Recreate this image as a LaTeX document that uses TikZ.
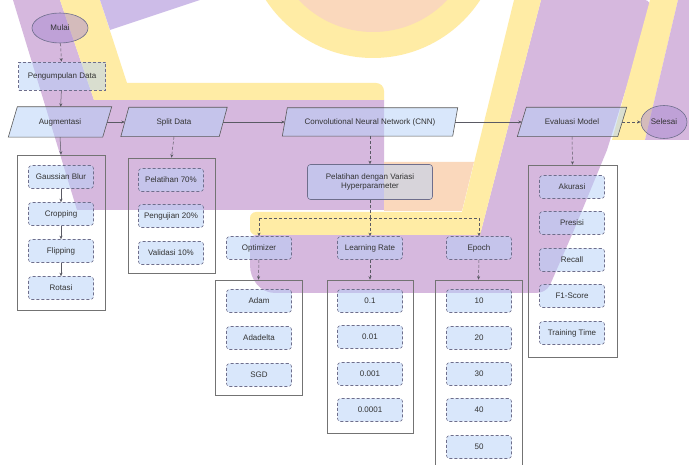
\documentclass[tikz,border=0pt]{standalone}
\usepackage{fontspec}
\setmainfont{Liberation Sans}
\usetikzlibrary{arrows.meta,shapes.geometric}
\pgfdeclarelayer{wm}
\pgfdeclarelayer{bg}
\pgfsetlayers{wm,bg,main}
\definecolor{wmPurple}{RGB}{214,184,222}
\definecolor{wmLilac}{RGB}{205,188,232}
\definecolor{wmYellow}{RGB}{255,236,165}
\definecolor{wmPeach}{RGB}{250,216,188}
\definecolor{boxBlue}{RGB}{181,209,249}
\definecolor{boxLine}{RGB}{110,110,140}
\definecolor{ellFill}{RGB}{170,140,210}
\definecolor{lineCol}{RGB}{90,90,100}
\tikzset{
  every node/.style={font=\fontsize{8}{9}\selectfont, text=black!80},
  innerbox/.style={rectangle, rounded corners=3pt, draw=boxLine, densely dashed, line width=0.6pt,
    fill=boxBlue, fill opacity=0.5, text opacity=1, minimum width=65pt, minimum height=23pt, inner sep=1pt},
  databox/.style={rectangle, draw=boxLine, densely dashed, line width=0.6pt,
    fill=boxBlue, fill opacity=0.5, text opacity=1, minimum width=87pt, minimum height=28pt, inner sep=1pt},
  group/.style={rectangle, draw=black!55, line width=0.6pt, inner sep=0pt},
  parabox/.style={rectangle, minimum height=29pt, inner sep=1pt},
  pline/.style={draw=black!65, line width=0.6pt, fill=boxBlue, fill opacity=0.5},
  ell/.style={ellipse, draw=boxLine, line width=0.6pt, fill=ellFill, fill opacity=0.5, text opacity=1, inner sep=0pt},
  conn/.style={draw=lineCol, line width=0.5pt, -{Stealth[length=3.5pt,width=3pt]}},
  dconn/.style={conn, densely dashed},
  dline/.style={draw=lineCol, line width=0.5pt, densely dashed}
}
\begin{document}
\begin{tikzpicture}[x=1pt,y=-1pt]
\useasboundingbox (0,0) rectangle (689,465);
% ---------- watermark ----------
\begin{pgfonlayer}{wm}
\fill[white] (0,0) rectangle (689,465);
\fill[wmYellow] (373,-70) circle (128);
\fill[wmPeach] (373,-70) circle (102);
\fill[wmPurple] (13,0) -- (60,0) -- (94,100) -- (384,100) -- (384,210) -- (77,210) -- cycle;
\fill[wmYellow] (60,0) -- (100,0) -- (127,83) -- (376,83) to[out=0,in=90] (384,91) -- (384,100) -- (94,100) -- cycle;
\fill[wmLilac] (100,0) -- (200,0) -- (110,30) -- cycle;
\fill[wmPeach] (384,162) -- (474,162) -- (462,211) -- (384,211) -- cycle;
\fill[wmPurple] (541,0) -- (645,0) to[out=0,in=105] (651,8) -- (607,150) -- (574,230) -- (550,285)
   to[out=240,in=0] (535,293) -- (275,293) to[out=180,in=270] (250,265) -- (250,240)
   to[out=90,in=180] (256,235) -- (480,235) -- cycle;
\fill[wmYellow] (514,0) -- (541,0) -- (480,235) -- (256,235) to[out=180,in=270] (250,229)
   -- (250,218) to[out=90,in=180] (256,212) -- (462,212) -- cycle;
\fill[wmYellow] (650,0) -- (678,0) -- (645,140) -- (612,140) -- cycle;
\fill[wmPurple] (678,0) -- (689,0) -- (689,140) -- (645,140) -- cycle;
\end{pgfonlayer}
% ---------- main flow ----------
\node[ell, minimum width=56pt, minimum height=30pt] (mulai) at (60,28) {Mulai};
\node[databox] (data) at (62,76) {Pengumpulan Data};
\node[parabox, minimum width=94pt, minimum height=30pt] (aug) at (60,122) {Augmentasi};
\node[parabox, minimum width=98pt] (split) at (174,122) {Split Data};
\node[parabox, minimum width=170pt, minimum height=28pt] (cnn) at (370,122) {Convolutional Neural Network (CNN)};
\node[parabox, minimum width=100pt] (eval) at (572,122) {Evaluasi Model};
\node[ell, minimum width=46pt, minimum height=33pt] (selesai) at (664,122) {Selesai};
\begin{pgfonlayer}{bg}
\foreach \n/\s in {aug/4.5pt, split/4pt, cnn/2.5pt, eval/4.5pt}
  \draw[pline] ([xshift=\s]\n.north west) -- ([xshift=\s]\n.north east)
     -- ([xshift=-\s]\n.south east) -- ([xshift=-\s]\n.south west) -- cycle;
\end{pgfonlayer}
% ---------- augmentation group ----------
\node[group, minimum width=88pt, minimum height=155pt] (gaug) at (61,232.5) {};
\node[innerbox] (g1) at (61,177) {Gaussian Blur};
\node[innerbox] (g2) at (61,214) {Cropping};
\node[innerbox] (g3) at (61,251) {Flipping};
\node[innerbox] (g4) at (61,288) {Rotasi};
% ---------- split group ----------
\node[group, minimum width=87pt, minimum height=115pt] (gsplit) at (171.5,215.5) {};
\node[innerbox] (s1) at (171,180) {Pelatihan 70\%};
\node[innerbox] (s2) at (171,216) {Pengujian 20\%};
\node[innerbox] (s3) at (171,253) {Validasi 10\%};
% ---------- hyperparameter ----------
\node[innerbox, solid, minimum width=125pt, minimum height=35pt, align=center] (pel) at (370,182)
  {Pelatihan dengan Variasi\\Hyperparameter};
\coordinate (br) at (370,218);
\coordinate (brL) at (259,218);
\coordinate (brR) at (479,218);
\node[innerbox] (opt) at (259,248) {Optimizer};
\node[innerbox] (lr) at (370,248) {Learning Rate};
\node[innerbox] (ep) at (479,248) {Epoch};
\node[group, minimum width=87pt, minimum height=115pt] (gopt) at (258.5,337.5) {};
\node[innerbox] (o1) at (259,301) {Adam};
\node[innerbox] (o2) at (259,338) {Adadelta};
\node[innerbox] (o3) at (259,375) {SGD};
\node[group, minimum width=86pt, minimum height=153pt] (glr) at (370,356.5) {};
\node[innerbox] (l1) at (370,301) {0.1};
\node[innerbox] (l2) at (370,337) {0.01};
\node[innerbox] (l3) at (370,374) {0.001};
\node[innerbox] (l4) at (370,410) {0.0001};
\node[group, minimum width=87pt, minimum height=190pt] (gep) at (478.5,375) {};
\node[innerbox] (e1) at (479,301) {10};
\node[innerbox] (e2) at (479,338) {20};
\node[innerbox] (e3) at (479,374) {30};
\node[innerbox] (e4) at (479,410) {40};
\node[innerbox] (e5) at (479,447) {50};
% ---------- evaluation group ----------
\node[group, minimum width=89pt, minimum height=192pt] (geval) at (572.5,261) {};
\node[innerbox] (v1) at (572,187) {Akurasi};
\node[innerbox] (v2) at (572,223) {Presisi};
\node[innerbox] (v3) at (572,260) {Recall};
\node[innerbox] (v4) at (572,296) {F1-Score};
\node[innerbox] (v5) at (572,333) {Training Time};
% ---------- connectors ----------
\draw[dconn] (mulai) -- (data);
\draw[conn] (data) -- (aug);
\draw[conn] (aug) -- (split);
\draw[conn] (split) -- (cnn);
\draw[conn] (cnn) -- (eval);
\draw[dconn] (eval) -- (selesai);
\draw[conn] (aug.south) -- (gaug.north);
\draw[conn] (g1) -- (g2);
\draw[conn] (g2) -- (g3);
\draw[conn] (g3) -- (g4);
\draw[dconn] (split.south) -- (gsplit.north);
\draw[dconn] (cnn.south) -- (pel.north);
\draw[dline] (pel.south) -- (br);
\draw[dline] (brL) -- (brR);
\draw[dconn] (brL) -- (opt.north);
\draw[dconn] (br) -- (lr.north);
\draw[dconn] (brR) -- (ep.north);
\draw[dconn] (opt.south) -- (gopt.north);
\draw[dconn] (lr.south) -- (glr.north);
\draw[dconn] (ep.south) -- (gep.north);
\draw[dconn] (eval.south) -- (geval.north);
\end{tikzpicture}
\end{document}
